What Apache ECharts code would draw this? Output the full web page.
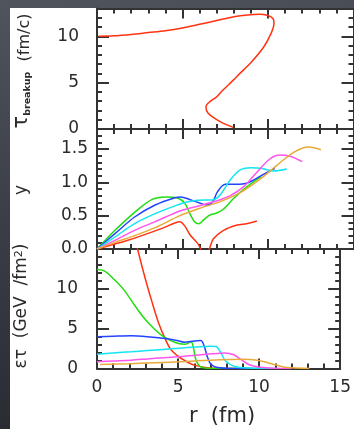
<!DOCTYPE html>
<html>
<head>
<meta charset="utf-8">
<script src="https://cdn.jsdelivr.net/npm/echarts@6/dist/echarts.min.js"></script>
<style>
  html, body { margin: 0; padding: 0; }
  #wrap { position: relative; width: 354px; height: 429px; overflow: hidden;
          background: linear-gradient(170deg, #50545c 0%, #3b3e46 45%, #25272d 100%); }
  #paper { position: absolute; left: 10px; top: 8px; right: 0; bottom: 0; background: #ffffff; }
  #chart { position: absolute; left: 0; top: 0; width: 354px; height: 429px; }
</style>
</head>
<body>
<div id="wrap"><div id="paper"></div><div id="chart"></div></div>
<script>
// ---- axis ranges ----
const rRange = [0, 15];
const tauRange = [0, 13];
const yRange = [0, 1.8];
const edensRange = [0, 15];

// ---- breakup time tau(r), in order along the freeze-out curve ----
const tauBreakup = [
  [0.1, 10.0], [1, 10.05], [2, 10.2], [3, 10.4], [4, 10.6], [5, 10.9], [6, 11.3],
  [7, 11.7], [8, 12.1], [8.8, 12.3], [9.5, 12.37], [10.0, 12.25], [10.3, 11.9],
  [10.35, 11.4], [10.2, 10.4], [9.75, 8.85], [8.95, 7.06], [8.36, 6.0], [7.97, 5.27],
  [7.37, 4.2], [7.0, 3.47], [6.6, 2.95], [6.37, 2.4], [6.5, 1.7], [7.2, 0.8], [7.97, 0.18]
];

// ---- rapidity y(r) ----
const yRed = [
  [0, 0], [1.8, 0.13], [3.8, 0.31], [4.55, 0.39], [4.85, 0.41], [5.15, 0.34],
  [5.45, 0.21], [5.9, 0.08], [6.2, -0.04], [6.45, -0.04], [6.8, 0.15], [7.4, 0.28],
  [8.2, 0.36], [8.75, 0.38], [9.35, 0.42]
];
const yGreen = [
  [0, 0], [1.05, 0.28], [2.2, 0.55], [3.2, 0.74], [4.0, 0.78], [4.75, 0.76],
  [5.15, 0.68], [5.45, 0.52], [5.7, 0.41], [5.95, 0.38], [6.25, 0.44], [6.6, 0.51],
  [7.0, 0.54], [7.4, 0.6], [8.0, 0.76], [8.7, 0.92], [9.6, 1.09]
];
const yBlue = [
  [0, 0], [1.05, 0.23], [2.2, 0.48], [3.4, 0.66], [4.56, 0.77], [4.9, 0.78],
  [5.45, 0.74], [6.0, 0.69], [6.4, 0.66], [6.75, 0.7], [7.05, 0.86], [7.5, 0.97],
  [8.1, 0.97], [8.8, 0.99], [9.6, 1.1], [10.4, 1.21]
];
const yCyan = [
  [0, 0], [1.05, 0.18], [2.2, 0.38], [3.4, 0.53], [4.6, 0.65], [5.2, 0.7],
  [5.9, 0.73], [6.8, 0.74], [7.2, 0.81], [7.8, 1.04], [8.4, 1.19], [9.0, 1.22],
  [9.6, 1.21], [10.3, 1.17], [11.1, 1.2]
];
const yMagenta = [
  [0, 0], [1.05, 0.13], [2.2, 0.28], [3.4, 0.41], [4.85, 0.57], [6.0, 0.65],
  [7.2, 0.74], [7.8, 0.8], [8.6, 0.94], [9.35, 1.15], [10.1, 1.35], [10.7, 1.41],
  [11.3, 1.39], [12.0, 1.31]
];
const yOrange = [
  [0, 0], [1.05, 0.1], [2.2, 0.2], [3.4, 0.32], [4.85, 0.5], [6.0, 0.61],
  [7.2, 0.71], [8.4, 0.85], [9.5, 1.04], [10.5, 1.25], [11.5, 1.45], [12.4, 1.53],
  [13.1, 1.49]
];

// ---- energy density times tau, eps*tau(r) ----
const eRed = [
  [1.8, 21], [2.2, 17.6], [2.5, 15], [3.0, 11.1], [3.4, 8.3], [3.8, 5.7], [4.2, 3.75],
  [4.55, 2.4], [5.05, 1.45], [5.5, 0.9], [6.0, 0.42], [6.8, 0.08], [7.5, 0.02], [9.3, 0]
];
const eGreen = [
  [0, 12.45], [0.5, 12.2], [1.05, 11.2], [1.65, 9.9], [2.2, 8.3], [2.8, 6.6],
  [3.4, 5.25], [4.0, 4.15], [4.55, 3.5], [5.1, 3.1], [5.45, 3.05], [5.8, 3.35],
  [5.95, 2.6], [6.1, 1.1], [6.4, 0.2], [7.0, 0.02], [9.6, 0]
];
const eBlue = [
  [0, 4.0], [1, 4.05], [2.1, 4.1], [3.1, 4.0], [4.1, 3.8], [4.85, 3.55], [5.4, 3.3],
  [6.0, 3.45], [6.4, 3.5], [6.6, 2.9], [6.8, 1.5], [7.0, 0.6], [7.3, 0.2], [8, 0.04],
  [10.4, 0]
];
const eCyan = [
  [0, 1.8], [1, 1.95], [2.1, 2.1], [3.1, 2.25], [4.1, 2.4], [5.1, 2.55], [6.1, 2.7],
  [7.0, 2.8], [7.35, 2.75], [7.6, 2.1], [7.95, 0.9], [8.5, 0.25], [9.3, 0.06], [11.1, 0]
];
const eMagenta = [
  [0, 0.85], [1, 0.95], [2.1, 1.05], [3.1, 1.2], [4.1, 1.35], [5.1, 1.5], [6.1, 1.65],
  [7.1, 1.85], [7.9, 1.95], [8.4, 1.75], [8.8, 1.25], [9.35, 0.5], [10.1, 0.15],
  [11.0, 0.03], [12.0, 0]
];
const eOrange = [
  [0.2, 0.5], [2, 0.6], [4.1, 0.76], [5.5, 0.88], [7.0, 1.05], [8.2, 1.14], [9.0, 1.17],
  [9.9, 1.05], [10.5, 0.75], [10.9, 0.5], [11.5, 0.2], [12, 0.08], [13.1, 0]
];

// ---- drawing ----
const INK = '#333333';
const TXT = '#2a2a2a';
const FONT = 'DejaVu Sans';
const COLORS = {
  red: '#ff3311', green: '#22dd11', blue: '#2244ff',
  cyan: '#11e6f2', magenta: '#ff55ee', orange: '#e8aa3a'
};

const grids = [
  { left: 97, width: 256.5, top: 8.5, height: 120.5 },
  { left: 97, width: 256.5, top: 129, height: 120 },
  { left: 97, width: 256.5, top: 249, height: 119.5 }
];

const near = (v, step) => Math.abs(v / step - Math.round(v / step)) < 1e-6;

function xAxes(g) {
  const base = {
    gridIndex: g, type: 'value', min: rRange[0], max: rRange[1], interval: 5,
    axisLine: { show: true, onZero: false, lineStyle: { color: INK, width: 2 } },
    axisTick: { show: true, inside: true, length: 10, lineStyle: { color: INK, width: 2 } },
    minorTick: { show: true, splitNumber: 5, length: 5, lineStyle: { color: INK, width: 2 } },
    splitLine: { show: false }, minorSplitLine: { show: false }
  };
  return [
    Object.assign({}, base, {
      position: 'bottom',
      axisLabel: { show: g === 2, margin: 11, color: TXT, fontSize: 17, fontFamily: FONT }
    }),
    Object.assign({}, base, { position: 'top', axisLabel: { show: false } })
  ];
}

// Left/right value axes; the top end of each panel carries no label.
function yAxes(g, range, major, minor, fmt, margin) {
  const mk = (pos, step, len, labels, line) => ({
    gridIndex: g, type: 'value', min: range[0], max: range[1], interval: step, position: pos,
    axisLine: { show: line, onZero: false, lineStyle: { color: INK, width: 2 } },
    axisTick: { show: true, inside: true, length: len, lineStyle: { color: INK, width: 2 } },
    axisLabel: labels
      ? { show: true, margin: margin, color: TXT, fontSize: 17, fontFamily: FONT,
          showMaxLabel: false,
          formatter: v => (near(v, major) && v < range[1] - 1e-9 ? fmt(v) : '') }
      : { show: false },
    splitLine: { show: false }
  });
  return [
    mk('left', major, 12, true, true),
    mk('left', minor, 5, false, false),
    mk('right', major, 12, false, true),
    mk('right', minor, 5, false, false)
  ];
}

function curve(data, color, g) {
  return {
    type: 'line', data: data, xAxisIndex: 2 * g, yAxisIndex: 4 * g,
    symbol: 'none', smooth: 0.3, clip: true, silent: true,
    lineStyle: { color: color, width: 1.5 }
  };
}

const option = {
  animation: false,
  grid: grids,
  xAxis: [].concat(xAxes(0), xAxes(1), xAxes(2)),
  yAxis: [].concat(
    yAxes(0, tauRange, 5, 1, v => String(Math.round(v)), 18),
    yAxes(1, yRange, 0.5, 0.1, v => v.toFixed(1), 9),
    yAxes(2, edensRange, 5, 1, v => String(Math.round(v)), 19)
  ),
  series: [
    curve(tauBreakup, COLORS.red, 0),
    curve(yRed, COLORS.red, 1),
    curve(yGreen, COLORS.green, 1),
    curve(yBlue, COLORS.blue, 1),
    curve(yCyan, COLORS.cyan, 1),
    curve(yMagenta, COLORS.magenta, 1),
    curve(yOrange, COLORS.orange, 1),
    curve(eRed, COLORS.red, 2),
    curve(eGreen, COLORS.green, 2),
    curve(eBlue, COLORS.blue, 2),
    curve(eCyan, COLORS.cyan, 2),
    curve(eMagenta, COLORS.magenta, 2),
    curve(eOrange, COLORS.orange, 2)
  ],
  graphic: [
    {
      type: 'text', x: 22, y: 71, rotation: Math.PI / 2,
      style: {
        text: '{t|τ}{s|breakup}{u|  (fm/c)}',
        align: 'center', verticalAlign: 'middle', fill: TXT,
        rich: {
          t: { fontSize: 21, fontFamily: FONT, fill: TXT, verticalAlign: 'bottom' },
          s: { fontSize: 9.5, fontFamily: FONT, fontWeight: 'bold', fill: TXT, verticalAlign: 'bottom' },
          u: { fontSize: 16, fontFamily: FONT, fill: TXT, verticalAlign: 'bottom' }
        }
      }
    },
    {
      type: 'text', x: 22, y: 190, rotation: Math.PI / 2,
      style: { text: 'y', align: 'center', verticalAlign: 'middle', fill: TXT,
               fontSize: 17, fontFamily: FONT }
    },
    {
      type: 'text', x: 22, y: 306, rotation: Math.PI / 2,
      style: {
        text: '{u|ετ  (GeV  /fm}{p|2}{u|)}',
        align: 'center', verticalAlign: 'middle', fill: TXT,
        rich: {
          u: { fontSize: 17, fontFamily: FONT, fill: TXT, verticalAlign: 'bottom' },
          p: { fontSize: 11, fontFamily: FONT, fill: TXT, verticalAlign: 'top' }
        }
      }
    },
    {
      type: 'text', x: 222, y: 417,
      style: { text: 'r  (fm)', align: 'center', verticalAlign: 'middle', fill: TXT,
               fontSize: 21, fontFamily: FONT }
    }
  ]
};

const chart = echarts.init(document.getElementById('chart'), null, { renderer: 'canvas' });
chart.setOption(option);
</script>
</body>
</html>
